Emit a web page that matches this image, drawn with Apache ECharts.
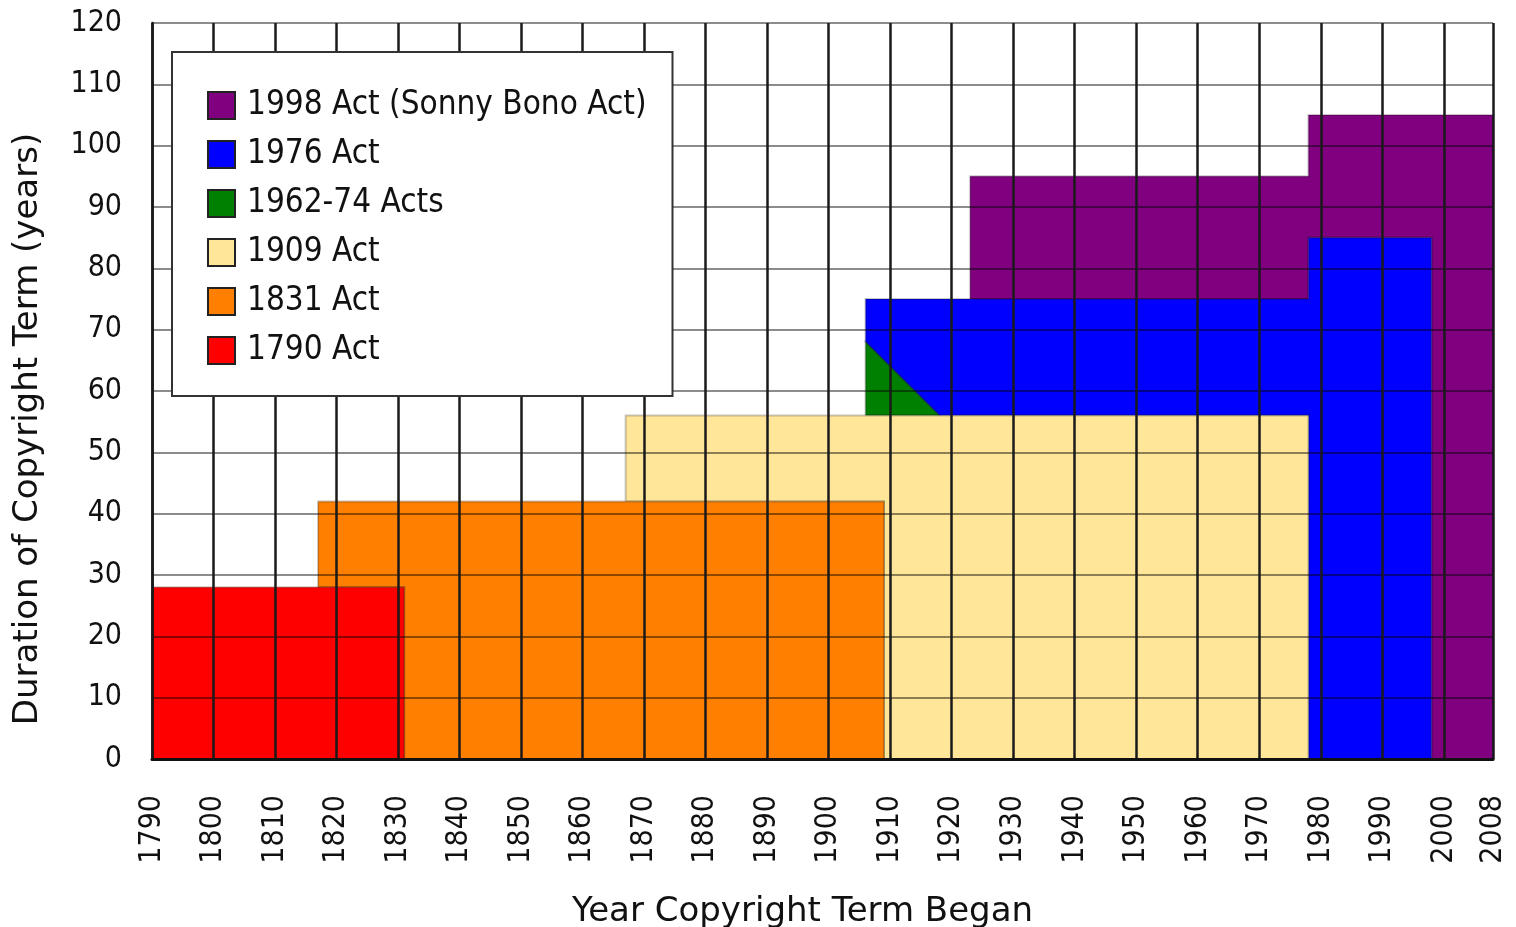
<!DOCTYPE html>
<html>
<head>
<meta charset="utf-8">
<script src="https://cdn.jsdelivr.net/npm/echarts@6/dist/echarts.min.js"></script>
<style>
html,body{margin:0;padding:0;background:#fff;}
#chart{width:1516px;height:927px;}
</style>
</head>
<body>
<div id="chart"></div>
<script>
// Legend / series names (legend order top to bottom)
const actNames = ['1998 Act (Sonny Bono Act)', '1976 Act', '1962-74 Acts', '1909 Act', '1831 Act', '1790 Act'];
const actColors = ['#800080', '#0000ff', '#008000', '#ffe699', '#ff8000', '#ff0000'];

// Outline of each act's region: [year term began, duration in years]
const act1998 = [[1923,75],[1923,95],[1978,95],[1978,105],[2008,105],[2008,0],[1998,0],[1998,85],[1978,85],[1978,75]];
const act1976 = [[1906,68],[1906,75],[1978,75],[1978,85],[1998,85],[1998,0],[1978,0],[1978,56],[1918,56]];
const act1962 = [[1906,56],[1906,68],[1918,56]];
const act1909 = [[1867,42],[1867,56],[1978,56],[1978,0],[1909,0],[1909,42]];
const act1831 = [[1817,28],[1817,42],[1909,42],[1909,0],[1831,0],[1831,28]];
const act1790 = [[1790,0],[1790,28],[1831,28],[1831,0]];
const actPolys = [act1998, act1976, act1962, act1909, act1831, act1790];

// Axis settings
const xMin = 1790, xMax = 2008, xStep = 10;
const yMin = 0, yMax = 120, yStep = 10;

const FONT = "'DejaVu Sans Condensed', 'DejaVu Sans', sans-serif";
const TITLE_FONT = "'DejaVu Sans', sans-serif";

const series = actNames.map((name, i) => {
  const poly = actPolys[i];
  const color = actColors[i];
  return {
    type: 'custom',
    name: name,
    data: poly,
    itemStyle: { color: color },
    renderItem: function (params, api) {
      if (params.dataIndex !== 0) return null;
      const pts = poly.map(p => api.coord(p));
      return {
        type: 'polygon',
        shape: { points: pts },
        style: { fill: color, stroke: 'rgba(0,0,0,0.22)', lineWidth: 2 }
      };
    },
    z: 2
  };
});

const chart = echarts.init(document.getElementById('chart'), null, { renderer: 'canvas' });
chart.setOption({
  animation: false,
  backgroundColor: '#ffffff',
  grid: { left: 152, right: 23, top: 23, bottom: 168, containLabel: false, outerBoundsMode: 'none' },
  legend: {
    data: actNames,
    orient: 'vertical',
    left: 172, top: 52,
    backgroundColor: '#ffffff',
    borderColor: '#333333',
    borderWidth: 2,
    borderRadius: 0,
    padding: [37, 26, 29, 35],
    itemWidth: 27, itemHeight: 27, itemGap: 16,
    icon: 'rect',
    itemStyle: { borderColor: '#222', borderWidth: 2 },
    textStyle: { fontFamily: FONT, fontSize: 33, color: '#111', padding: [0, 0, 0, 7] },
    selectedMode: false,
    z: 10
  },
  xAxis: {
    type: 'value',
    min: xMin, max: xMax, interval: xStep,
    z: 4,
    name: 'Year Copyright Term Began',
    nameLocation: 'middle',
    nameGap: 136,
    nameTextStyle: { fontFamily: TITLE_FONT, fontSize: 34, color: '#111', padding: [0, 40, 0, 0] },
    axisLine: { show: true, lineStyle: { color: '#111', width: 3 } },
    axisTick: { show: false },
    splitLine: { show: true, lineStyle: { color: '#1a1a1a', width: 2.5 } },
    axisLabel: {
      rotate: 90, margin: 36, showMinLabel: true, showMaxLabel: true,
      fontFamily: FONT, fontSize: 30, color: '#111',
      formatter: v => String(v)
    }
  },
  yAxis: {
    type: 'value',
    min: yMin, max: yMax, interval: yStep,
    z: 3,
    name: 'Duration of Copyright Term (years)',
    nameLocation: 'middle',
    nameGap: 107,
    nameRotate: 90,
    nameTextStyle: { fontFamily: TITLE_FONT, fontSize: 34, color: '#111', padding: [0, 76, 0, 0] },
    axisLine: { show: true, lineStyle: { color: '#111', width: 2.5 } },
    axisTick: { show: false },
    splitLine: { show: true, lineStyle: { color: 'rgba(0,0,0,0.45)', width: 2 } },
    axisLabel: { margin: 30, fontFamily: FONT, fontSize: 30, color: '#111' }
  },
  series: series
});
</script>
</body>
</html>
